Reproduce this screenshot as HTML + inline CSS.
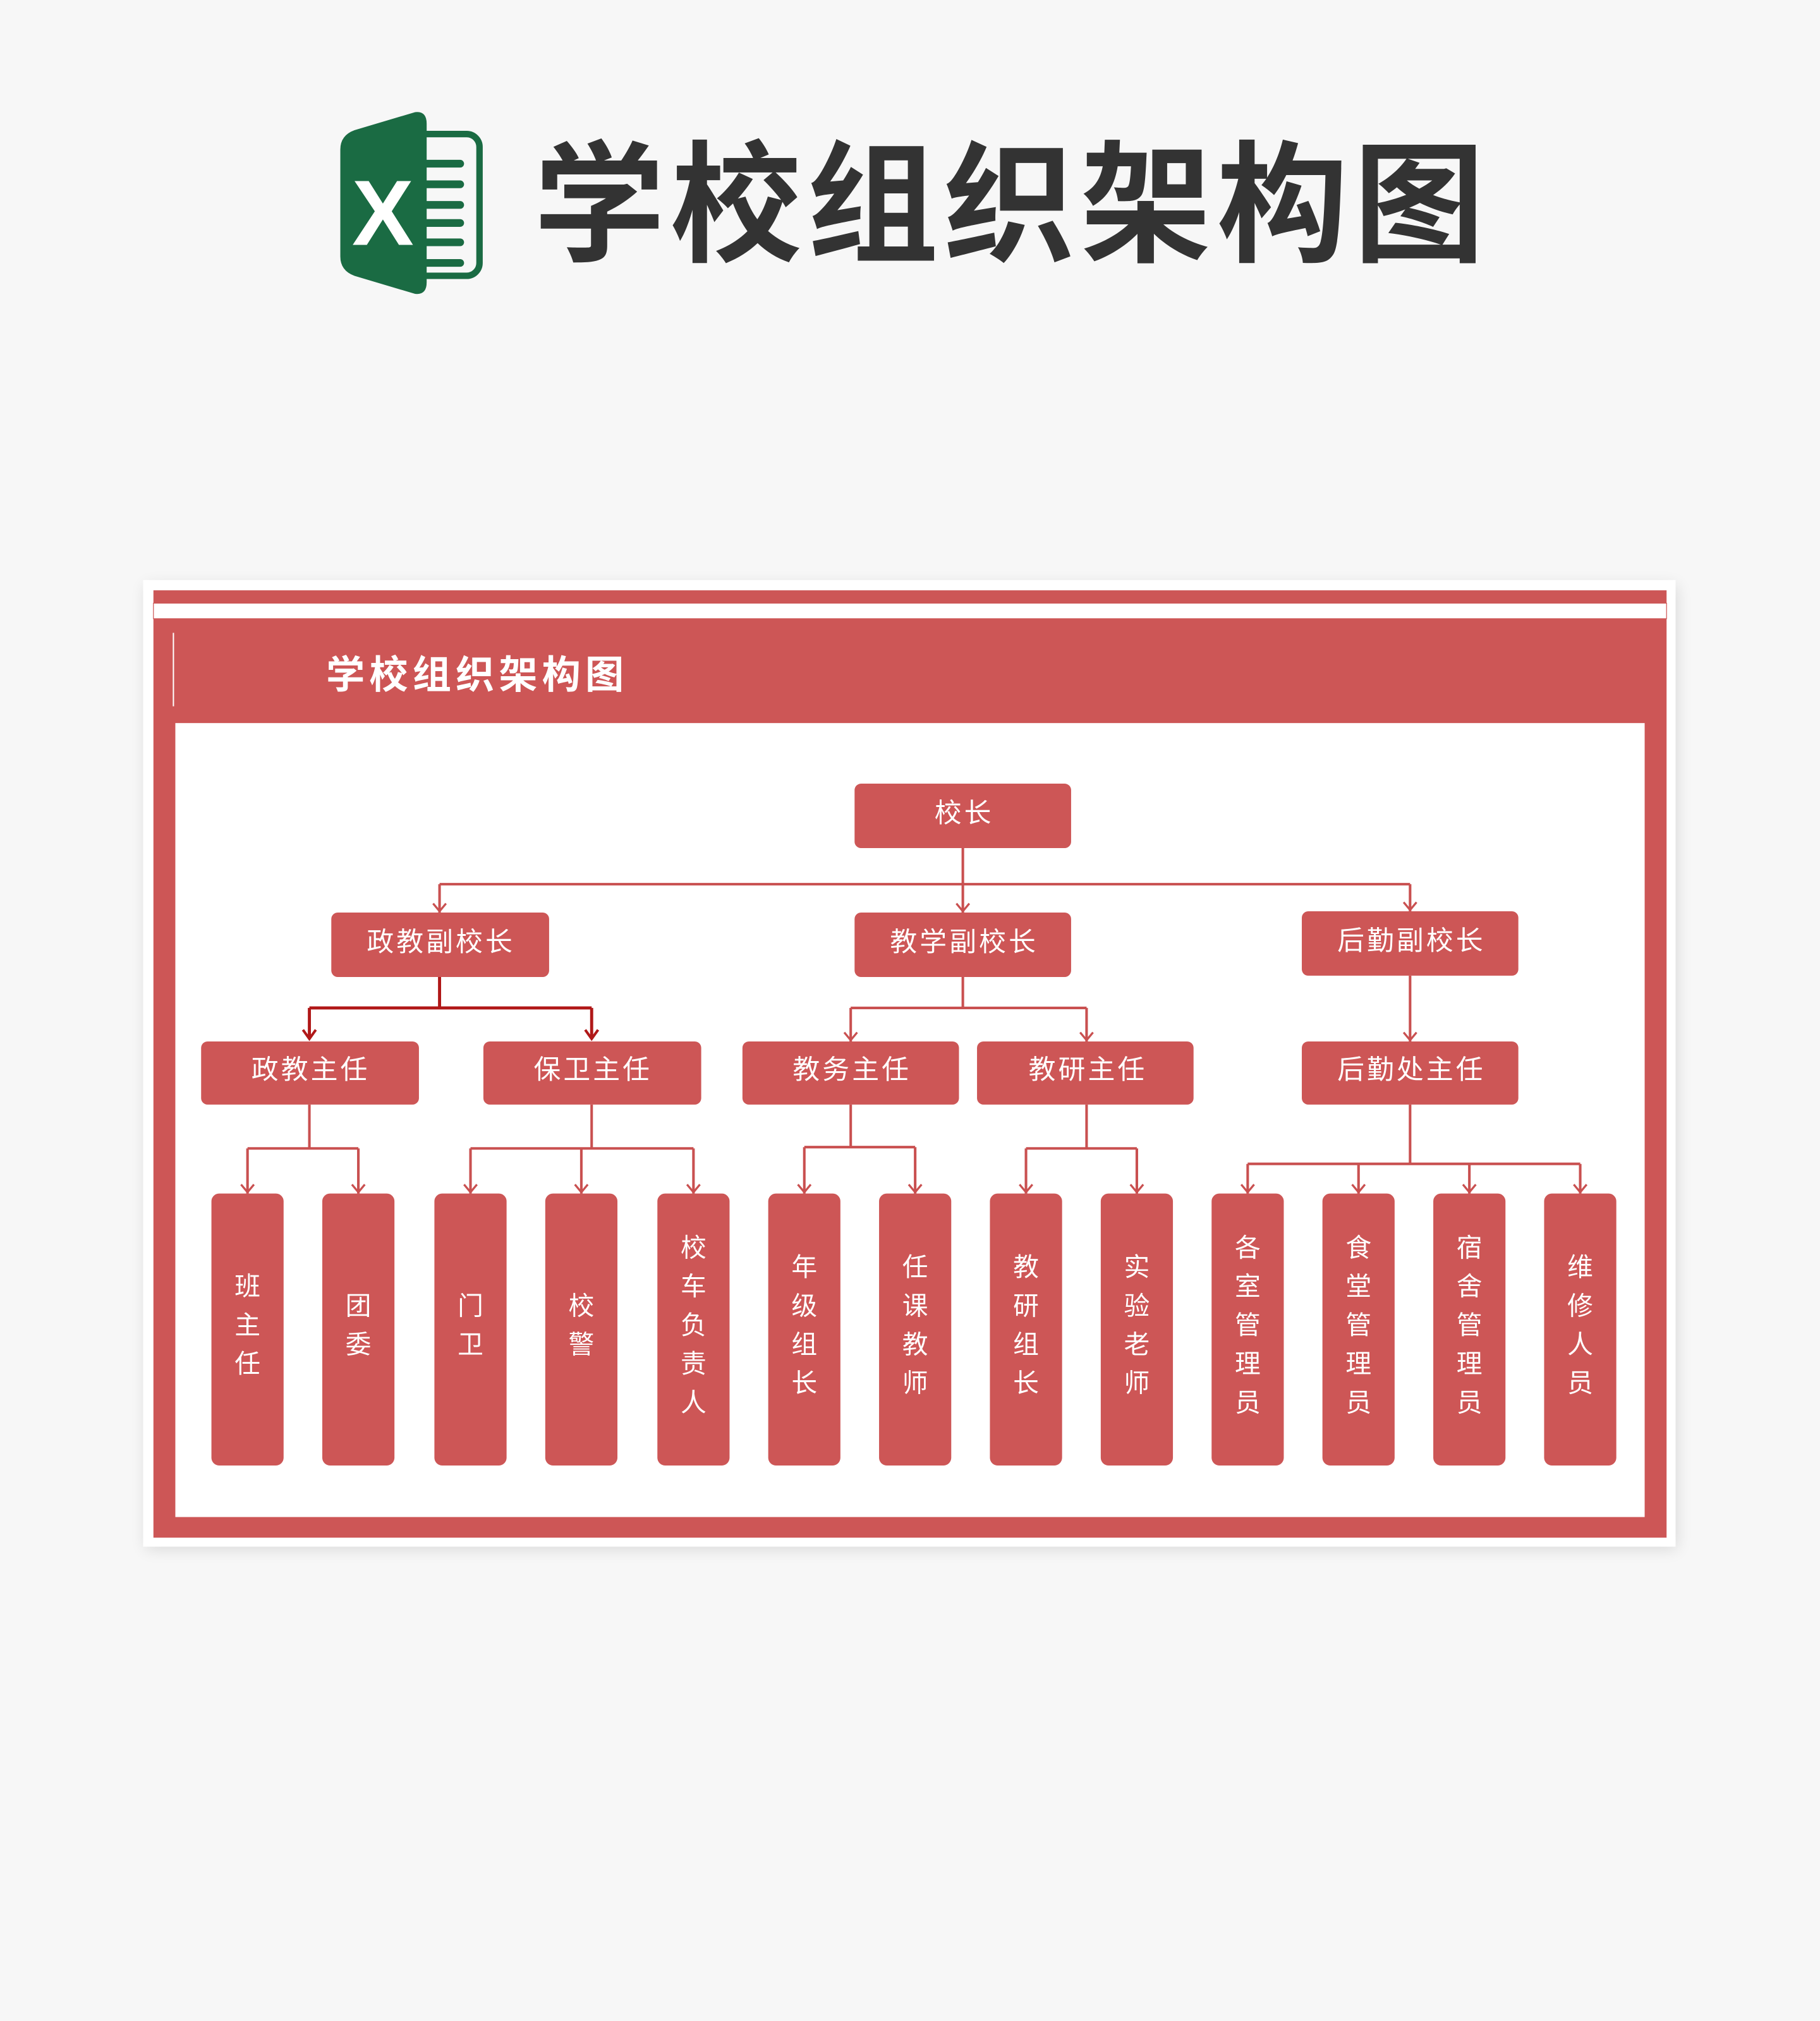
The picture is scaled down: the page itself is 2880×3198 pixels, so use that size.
<!DOCTYPE html>
<html><head><meta charset="utf-8"><style>
html,body{margin:0;padding:0;background:#f7f7f7;}
svg{display:block;}
text{font-family:"Liberation Sans","Noto Sans CJK SC",sans-serif;}
</style></head><body>
<svg width="2880" height="3198" viewBox="0 0 1412 1568" xmlns="http://www.w3.org/2000/svg">
<defs>
<filter id="sh" x="-5%" y="-5%" width="110%" height="110%"><feGaussianBlur stdDeviation="6"/></filter>
</defs>
<rect width="1412" height="1568" fill="#f7f7f7"/>
<g>
<rect x="315" y="104" width="57" height="110" rx="10" fill="none" stroke="#1a6b43" stroke-width="5"/>
<g stroke="#1a6b43" stroke-width="6" stroke-linecap="round">
<line x1="330" y1="127" x2="357" y2="127"/><line x1="330" y1="143" x2="357" y2="143"/><line x1="330" y1="159" x2="357" y2="159"/><line x1="330" y1="173" x2="357" y2="173"/><line x1="330" y1="188" x2="357" y2="188"/><line x1="330" y1="204" x2="357" y2="204"/>
</g>
<path d="M264 116 Q264 105 275 101 L322 87 Q331 86 331 96 L331 219 Q331 229 322 228 L275 214 Q264 210 264 199 Z" fill="#1a6b43"/>
<text x="297" y="190" font-size="72" font-weight="700" fill="#fff" text-anchor="middle">X</text>
</g>
<text x="785" y="195" font-size="102" font-weight="700" fill="#333" text-anchor="middle" letter-spacing="4">学校组织架构图</text>
<rect x="113" y="454" width="1188" height="748" fill="#000" opacity="0.12" filter="url(#sh)"/>
<rect x="111" y="450" width="1189" height="750" fill="#fff"/>
<rect x="119" y="458" width="1174" height="735" fill="#cd5656"/>
<rect x="119" y="468" width="1174" height="12" fill="#fff" stroke="#cd5656" stroke-width="0.6"/>
<line x1="134.5" y1="491" x2="134.5" y2="548" stroke="#fff" stroke-width="1"/>
<text x="253" y="534" font-size="30" font-weight="700" fill="#fff" letter-spacing="3.5">学校组织架构图</text>
<rect x="136" y="561" width="1140" height="616" fill="#fff"/>
<g fill="none" stroke="#c95050" stroke-width="2">
<path d="M747 658V686M341 686H1094M341 686V708M747 686V708M1094 686V707"/>
<path d="M747 758V782M660 782H843M660 782V808M843 782V808"/>
<path d="M1094 757V808"/>
<path d="M240 857V891M192 891H278M192 891V926M278 891V926"/>
<path d="M459 857V891M365 891H538M365 891V926M451 891V926M538 891V926"/>
<path d="M660 857V890M624 890H710M624 890V926M710 890V926"/>
<path d="M843 857V891M796 891H882M796 891V926M882 891V926"/>
<path d="M1094 857V903M968 903H1226M968 903V926M1054 903V926M1140 903V926M1226 903V926"/>
</g>
<path d="M341 758V782M240 782H459M240 782V806M459 782V806" fill="none" stroke="#b01818" stroke-width="2.4"/>
<g fill="none" stroke="#c95050" stroke-width="1.6">
<path d="M336 701L341 707L346 701M742 701L747 707L752 701M1089 700L1094 706L1099 700"/>
<path d="M655 801L660 807L665 801M838 801L843 807L848 801M1089 801L1094 807L1099 801"/>
<path d="M187 919L192 925L197 919M273 919L278 925L283 919M360 919L365 925L370 919M446 919L451 925L456 919M533 919L538 925L543 919M619 919L624 925L629 919M705 919L710 925L715 919M791 919L796 925L801 919M877 919L882 925L887 919M963 919L968 925L973 919M1049 919L1054 925L1059 919M1135 919L1140 925L1145 919M1221 919L1226 925L1231 919"/>
</g>
<path d="M235 799L240 806L245 799M454 799L459 806L464 799" fill="none" stroke="#b01818" stroke-width="2"/>
<g fill="#cd5656">
<rect x="663" y="608" width="168" height="50" rx="5"/>
<rect x="257" y="708" width="169" height="50" rx="5"/>
<rect x="663" y="708" width="168" height="50" rx="5"/>
<rect x="1010" y="707" width="168" height="50" rx="5"/>
<rect x="156" y="808" width="169" height="49" rx="5"/>
<rect x="375" y="808" width="169" height="49" rx="5"/>
<rect x="576" y="808" width="168" height="49" rx="5"/>
<rect x="758" y="808" width="168" height="49" rx="5"/>
<rect x="1010" y="808" width="168" height="49" rx="5"/>
<rect x="164" y="926" width="56" height="211" rx="6"/>
<rect x="250" y="926" width="56" height="211" rx="6"/>
<rect x="337" y="926" width="56" height="211" rx="6"/>
<rect x="423" y="926" width="56" height="211" rx="6"/>
<rect x="510" y="926" width="56" height="211" rx="6"/>
<rect x="596" y="926" width="56" height="211" rx="6"/>
<rect x="682" y="926" width="56" height="211" rx="6"/>
<rect x="768" y="926" width="56" height="211" rx="6"/>
<rect x="854" y="926" width="56" height="211" rx="6"/>
<rect x="940" y="926" width="56" height="211" rx="6"/>
<rect x="1026" y="926" width="56" height="211" rx="6"/>
<rect x="1112" y="926" width="56" height="211" rx="6"/>
<rect x="1198" y="926" width="56" height="211" rx="6"/>
</g>
<g fill="#fff" font-size="21" text-anchor="middle" letter-spacing="2">
<text x="748" y="638">校长</text>
<text x="342" y="738">政教副校长</text>
<text x="748" y="738">教学副校长</text>
<text x="1095" y="737">后勤副校长</text>
<text x="241" y="837">政教主任</text>
<text x="460" y="837">保卫主任</text>
<text x="661" y="837">教务主任</text>
<text x="844" y="837">教研主任</text>
<text x="1095" y="837">后勤处主任</text>
</g>
<g fill="#fff" font-size="20" text-anchor="middle">
<text x="192" y="1005">班</text><text x="192" y="1035">主</text><text x="192" y="1065">任</text>
<text x="278" y="1020">团</text><text x="278" y="1050">委</text>
<text x="365" y="1020">门</text><text x="365" y="1050">卫</text>
<text x="451" y="1020">校</text><text x="451" y="1050">警</text>
<text x="538" y="975">校</text><text x="538" y="1005">车</text><text x="538" y="1035">负</text><text x="538" y="1065">责</text><text x="538" y="1095">人</text>
<text x="624" y="990">年</text><text x="624" y="1020">级</text><text x="624" y="1050">组</text><text x="624" y="1080">长</text>
<text x="710" y="990">任</text><text x="710" y="1020">课</text><text x="710" y="1050">教</text><text x="710" y="1080">师</text>
<text x="796" y="990">教</text><text x="796" y="1020">研</text><text x="796" y="1050">组</text><text x="796" y="1080">长</text>
<text x="882" y="990">实</text><text x="882" y="1020">验</text><text x="882" y="1050">老</text><text x="882" y="1080">师</text>
<text x="968" y="975">各</text><text x="968" y="1005">室</text><text x="968" y="1035">管</text><text x="968" y="1065">理</text><text x="968" y="1095">员</text>
<text x="1054" y="975">食</text><text x="1054" y="1005">堂</text><text x="1054" y="1035">管</text><text x="1054" y="1065">理</text><text x="1054" y="1095">员</text>
<text x="1140" y="975">宿</text><text x="1140" y="1005">舍</text><text x="1140" y="1035">管</text><text x="1140" y="1065">理</text><text x="1140" y="1095">员</text>
<text x="1226" y="990">维</text><text x="1226" y="1020">修</text><text x="1226" y="1050">人</text><text x="1226" y="1080">员</text>
</g>
</svg>
</body></html>
